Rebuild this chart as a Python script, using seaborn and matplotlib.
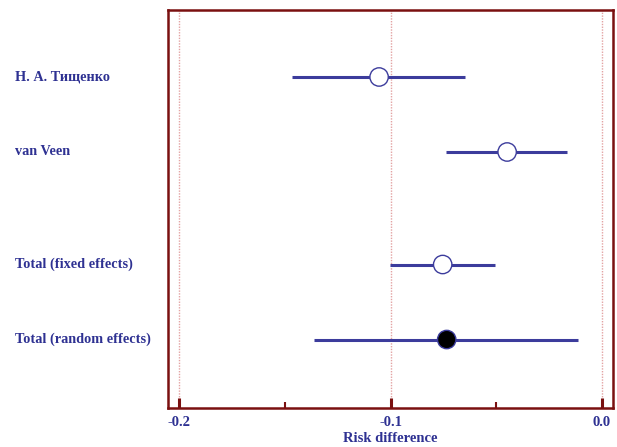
import matplotlib
matplotlib.use("Agg")
import matplotlib.pyplot as plt
import matplotlib.transforms as mtransforms
from matplotlib.ticker import MultipleLocator
import seaborn as sns
import pandas as pd

# ---- data ----
studies = ["Н. А. Тищенко", "van Veen", "Total (fixed effects)", "Total (random effects)"]
row_pos = [0, 1, 2.5, 3.5]
estimate = [-0.1054, -0.0448, -0.0753, -0.0734]
ci_low = [-0.1465, -0.0737, -0.1002, -0.1364]
ci_high = [-0.0649, -0.0166, -0.0504, -0.0111]
marker_kind = ["open", "open", "open", "filled"]
xticks_major = [-0.2, -0.1, 0.0]
xtick_labels = ["-0.2", "-0.1", "0.0"]

df = pd.DataFrame({"study": studies, "pos": row_pos, "est": estimate,
                   "lo": ci_low, "hi": ci_high, "kind": marker_kind})

sns.set_style("white")
plt.rcParams["font.family"] = ["Liberation Serif", "DejaVu Serif"]
plt.rcParams["font.weight"] = "bold"

navy = "#2e3192"
line_blue = "#3c3c9c"
frame_red = "#7a1010"

fig = plt.figure(figsize=(6.17, 4.47), dpi=100)
ax = fig.add_axes([168 / 617, 1 - 408 / 447, (613 - 168) / 617, (408 - 10) / 447])

# grid lines
for xv in xticks_major:
    ax.axvline(xv, color="#e3a3a3", lw=1.0, ls=(0, (1, 1)), zorder=0)

# CI lines
ax.hlines(df["pos"], df["lo"], df["hi"], color=line_blue, lw=2.2, zorder=2)

sns.scatterplot(data=df, x="est", y="pos", hue="kind",
                palette={"open": "white", "filled": "black"},
                edgecolor=line_blue, linewidth=1.0, s=175, zorder=3,
                legend=False, ax=ax)

ax.set_xlim(-0.2053, 0.0053)
ax.set_ylim(4.413, -0.893)
ax.set_yticks([])
ax.set_ylabel("")
ax.set_xticks(xticks_major)
ax.set_xticklabels(xtick_labels)
ax.xaxis.set_minor_locator(MultipleLocator(0.05))
ax.tick_params(axis="x", which="major", direction="in", length=7, width=2.2,
               color=frame_red, labelcolor=navy, labelsize=10.5, pad=5.5, bottom=True)
ax.tick_params(axis="x", which="minor", direction="in", length=4, width=1.5,
               color=frame_red, bottom=True)
for lab in ax.get_xticklabels():
    lab.set_fontweight("bold")
ax.set_xlabel("Risk difference", color=navy, fontsize=10.5, fontweight="bold", labelpad=2.5)

for sp in ax.spines.values():
    sp.set_visible(True)
    sp.set_color(frame_red)
    sp.set_linewidth(1.8)

trans = mtransforms.blended_transform_factory(fig.transFigure, ax.transData)
for name, p in zip(df["study"], df["pos"]):
    ax.text(15 / 617, p, name, transform=trans, ha="left", va="center",
            color=navy, fontsize=10.3, fontweight="bold")

fig.savefig("out.png", dpi=100)
